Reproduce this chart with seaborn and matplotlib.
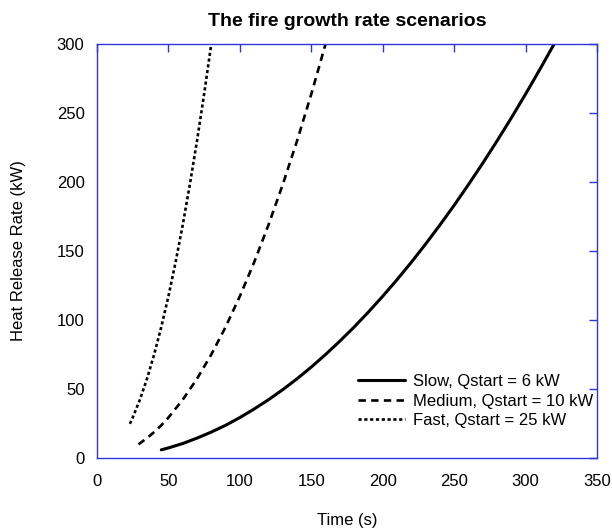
import matplotlib
matplotlib.use("Agg")
import matplotlib.pyplot as plt
import seaborn as sns
import pandas as pd

# Time (s) and heat release rate (kW) for the three growth scenarios
slow_t = [45, 50, 60, 70, 80, 90, 100, 110, 120, 130, 140, 150, 160, 170, 180, 190, 200,
          210, 220, 230, 240, 250, 260, 270, 280, 290, 300, 310, 320]
slow_q = [5.9, 7.3, 10.5, 14.4, 18.8, 23.7, 29.3, 35.5, 42.2, 49.5, 57.4, 65.9, 75.0,
          84.7, 94.9, 105.8, 117.2, 129.2, 141.8, 155.0, 168.8, 183.1, 198.1, 213.6,
          229.7, 246.4, 263.7, 281.6, 300.0]

medium_t = [29, 35, 40, 45, 50, 60, 70, 80, 90, 100, 110, 120, 130, 140, 150, 160]
medium_q = [9.9, 14.4, 18.8, 23.7, 29.3, 42.2, 57.4, 75.0, 94.9, 117.2, 141.8, 168.8,
            198.1, 229.7, 263.7, 300.0]

fast_t = [23, 25, 30, 35, 40, 45, 50, 55, 60, 65, 70, 75, 80]
fast_q = [24.8, 29.3, 42.2, 57.4, 75.0, 95.0, 117.2, 141.9, 168.8, 198.2, 229.8, 263.8, 300.0]

labels = ["Slow, Qstart = 6 kW", "Medium, Qstart = 10 kW", "Fast, Qstart = 25 kW"]

sns.set_style("white")
plt.rcParams["font.family"] = ["Liberation Sans", "DejaVu Sans"]
plt.rcParams["text.color"] = "black"
plt.rcParams["axes.labelcolor"] = "black"

fig = plt.figure(figsize=(6.12, 5.29), dpi=100)
ax = fig.add_axes([97 / 612, 71 / 529, 500 / 612, 414 / 529])

styles = [dict(linestyle="-", linewidth=2.2),
          dict(linestyle=(0, (2.8, 2.0)), linewidth=1.9),
          dict(linestyle=(0, (1.2, 1.0)), linewidth=1.9)]

for t, q, lab, st in zip([slow_t, medium_t, fast_t], [slow_q, medium_q, fast_q], labels, styles):
    df = pd.DataFrame({"t": t, "q": q})
    sns.lineplot(data=df, x="t", y="q", ax=ax, color="black", label=lab,
                 estimator=None, sort=False, **st)

ax.set_xlim(0, 350)
ax.set_ylim(0, 300)
ax.set_xticks(range(0, 351, 50))
ax.set_yticks(range(0, 301, 50))

blue = "#3333dd"
for sp in ax.spines.values():
    sp.set_color(blue)
    sp.set_linewidth(1.0)
ax.tick_params(axis="both", direction="in", length=6, width=1, color=blue,
               labelsize=12, top=True, right=True, labelcolor="black")
ax.tick_params(axis="x", pad=11.5)
ax.tick_params(axis="y", pad=9)

ax.set_xlabel("Time (s)", fontsize=12)
ax.set_ylabel("Heat Release Rate (kW)", fontsize=12)
ax.xaxis.set_label_coords(0.5, -0.133)
ax.yaxis.set_label_coords(-0.142, 0.5)
ax.set_title("The fire growth rate scenarios", fontsize=14, fontweight="bold",
             pad=13, color="black")

leg = ax.legend(loc="upper left", bbox_to_anchor=(0.522, 0.203), frameon=False,
                fontsize=12, handlelength=2.8, handletextpad=0.5,
                labelspacing=0.28, borderpad=0.0, borderaxespad=0.0)

fig.savefig("out.png", dpi=100)
